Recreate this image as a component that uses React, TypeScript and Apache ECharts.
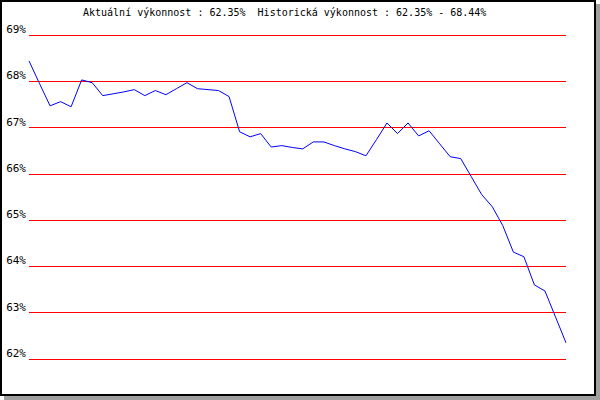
import React, { useEffect, useRef } from "react";
import * as echarts from "echarts";

const values: number[] = [
  68.44, 67.95, 67.47, 67.56, 67.45, 68.03, 67.97, 67.69, 67.73, 67.77,
  67.82, 67.69, 67.8, 67.71, 67.84, 67.97, 67.84, 67.82, 67.8, 67.67,
  66.91, 66.8, 66.87, 66.58, 66.61, 66.57, 66.54, 66.69, 66.69, 66.61,
  66.54, 66.48, 66.39, 66.74, 67.1, 66.87, 67.1, 66.82, 66.93, 66.65,
  66.37, 66.33, 65.94, 65.55, 65.29, 64.88, 64.31, 64.21, 63.6, 63.47,
  62.91, 62.35,
];
const categories: string[] = values.map((_, i) => String(i + 1));
const titleText = "Aktuální výkonnost : 62.35%  Historická výkonnost : 62.35% - 68.44%";
const yMin = 62;
const yMax = 69;
const yInterval = 1;

export default function App() {
  const ref = useRef<HTMLDivElement>(null);
  useEffect(() => {
    if (!ref.current) return;
    const chart = echarts.init(ref.current, undefined, { renderer: "svg" });
    chart.setOption({
      animation: false,
      backgroundColor: "#ffffff",
      graphic: [
        {
          type: "rect",
          z: -100,
          shape: { x: 4, y: 4, width: 596, height: 396 },
          style: { fill: "#a0a0a0" },
          silent: true,
        },
        {
          type: "rect",
          z: -99,
          shape: { x: 1, y: 1, width: 594, height: 394 },
          style: { fill: "#ffffff", stroke: "#000000", lineWidth: 2 },
          silent: true,
        },
      ],
      title: {
        text: titleText,
        left: 83,
        top: 7,
        padding: 0,
        textStyle: {
          fontFamily: "DejaVu Sans Mono",
          fontSize: 10,
          fontWeight: "normal",
          color: "#000000",
        },
      },
      grid: { left: 29, right: 34, top: 35, bottom: 41, containLabel: false },
      xAxis: {
        type: "category",
        data: categories,
        boundaryGap: false,
        axisLine: { show: false },
        axisTick: { show: false },
        axisLabel: { show: false },
        splitLine: { show: false },
      },
      yAxis: {
        type: "value",
        min: yMin,
        max: yMax,
        interval: yInterval,
        axisLine: { show: false },
        axisTick: { show: false },
        axisLabel: {
          formatter: "{value}%",
          fontFamily: "DejaVu Sans Mono",
          fontSize: 11,
          color: "#000000",
          verticalAlign: "bottom",
          margin: 3,
        },
        splitLine: { lineStyle: { color: "#ff0000", width: 1 } },
      },
      series: [
        {
          type: "line",
          data: values,
          showSymbol: false,
          lineStyle: { color: "#0000ff", width: 1 },
          z: 3,
        },
      ],
    });
    return () => chart.dispose();
  }, []);
  return (
    <div
      ref={ref}
      style={{ position: "fixed", left: 0, top: 0, width: 600, height: 400 }}
    />
  );
}
